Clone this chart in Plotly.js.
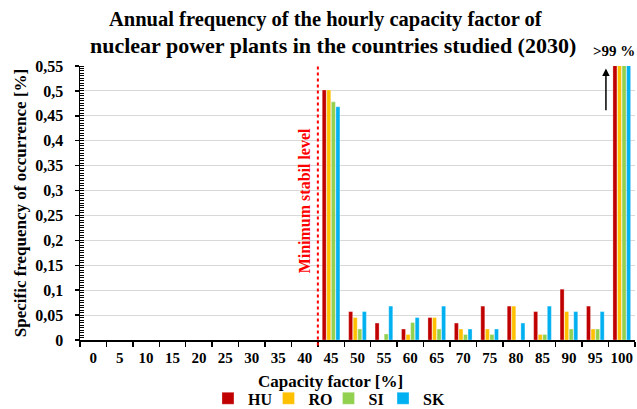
<!DOCTYPE html>
<html>
<head>
<meta charset="utf-8">
<script src="https://cdn.plot.ly/plotly-3.0.1.min.js"></script>
<style>
  html, body { margin: 0; padding: 0; background: #fff; }
  #chart { width: 637px; height: 409px; }
</style>
</head>
<body>
<div id="chart"></div>
<script>
// Capacity factor bins [%]
const capacityBins = ['0','5','10','15','20','25','30','35','40','45','50','55','60','65','70','75','80','85','90','95','100'];

// Specific frequency of occurrence [%] per country
const huValues = [0,0,0,0,0,0,0,0,0,0.502,0.057,0.034,0.022,0.045,0.034,0.068,0.068,0.057,0.102,0.068,99.05];
const roValues = [0,0,0,0,0,0,0,0,0,0.502,0.045,0,0.011,0.045,0.022,0.022,0.068,0.011,0.057,0.022,99.2];
const siValues = [0,0,0,0,0,0,0,0,0,0.478,0.022,0.012,0.035,0.022,0.011,0.011,0,0.011,0.022,0.022,99.35];
const skValues = [0,0,0,0,0,0,0,0,0,0.468,0.057,0.068,0.045,0.068,0.022,0.022,0.034,0.068,0.057,0.057,99.05];

const countryNames = ['HU','RO','SI','SK'];
const countryColors = ['#C00000','#FFC000','#92D050','#00B0F0'];

const yTickValues = [0,0.05,0.1,0.15,0.2,0.25,0.3,0.35,0.4,0.45,0.5,0.55];
const yTickLabels = ['0','0,05','0,1','0,15','0,2','0,25','0,3','0,35','0,4','0,45','0,5','0,55'];

const titleLines = [
  'Annual frequency of the hourly capacity factor of',
  'nuclear power plants in the countries studied (2030)'
];
const xAxisTitle = 'Capacity factor [%]';
const yAxisTitle = 'Specific frequency of occurrence [%]';

const minStableBoundary = 8.5;   // between the 40 % and 45 % bins
const fullLoadLabel = '>99 %';

const serif = 'Liberation Serif, Times New Roman, serif';

// one legend box per country so the entries sit in a compact row
const legendIds = ['legend', 'legend2', 'legend3', 'legend4'];
const legendX = [0.3265, 0.4215, 0.5157, 0.6013];

const series = [huValues, roValues, siValues, skValues];
const traces = series.map((vals, i) => ({
  type: 'bar',
  name: countryNames[i],
  legend: legendIds[i],
  showlegend: true,
  x: capacityBins,
  y: vals,
  marker: { color: countryColors[i], line: { color: 'rgba(255,255,255,0.6)', width: 0.5 } },
  hoverinfo: 'x+y+name'
}));

const layout = {
  width: 637,
  height: 409,
  margin: { l: 80, r: 2, t: 66, b: 69 },
  paper_bgcolor: '#ffffff',
  plot_bgcolor: '#ffffff',
  font: { family: serif, size: 15, color: '#000' },
  showlegend: true,
  barmode: 'group',
  bargap: 0.31,
  bargroupgap: 0.12,
  xaxis: {
    type: 'category',
    automargin: false,
    tickson: 'boundaries',
    tickangle: 0,
    ticks: 'outside', ticklen: 5, tickcolor: '#000', tickwidth: 1.5,
    ticklabelstandoff: 3,
    showline: true, linecolor: '#000', linewidth: 1.5,
    showgrid: false,
    tickfont: { family: serif, size: 15, color: '#000', weight: 'bold' }
  },
  yaxis: {
    automargin: false,
    range: [0, 0.55],
    tickvals: yTickValues,
    ticktext: yTickLabels,
    ticks: 'outside', ticklen: 4, tickcolor: '#000', tickwidth: 1.5,
    ticklabelstandoff: 8,
    minor: { dtick: 0.005, ticks: 'inside', ticklen: 4, tickcolor: '#000', tickwidth: 1, showgrid: false },
    showline: true, linecolor: '#000', linewidth: 1.5,
    showgrid: true, gridcolor: '#D9D9D9', gridwidth: 1,
    zeroline: false,
    tickfont: { family: serif, size: 16, color: '#000', weight: 'bold' },
    title: { text: '<b>' + yAxisTitle + '</b>', font: { family: serif, size: 17, color: '#000' }, standoff: 4 }
  },
  shapes: [{
    type: 'line', xref: 'x', yref: 'paper',
    x0: minStableBoundary, x1: minStableBoundary, y0: -0.02, y1: 1,
    line: { color: '#FF0000', width: 2, dash: 'dot' }
  }],
  annotations: [
    {
      text: '<b>' + titleLines[0] + '</b>',
      xref: 'paper', yref: 'paper', x: 0.443, y: 1.168,
      xanchor: 'center', yanchor: 'middle', showarrow: false,
      font: { family: serif, size: 20.5, color: '#000' }
    },
    {
      text: '<b>' + titleLines[1] + '</b>',
      xref: 'paper', yref: 'paper', x: 0.455, y: 1.073,
      xanchor: 'center', yanchor: 'middle', showarrow: false,
      font: { family: serif, size: 22, color: '#000' }
    },
    {
      text: '<b>' + xAxisTitle + '</b>',
      xref: 'paper', yref: 'paper', x: 0.452, y: -0.152,
      xanchor: 'center', yanchor: 'middle', showarrow: false,
      font: { family: serif, size: 17, color: '#000' }
    },
    {
      text: '<b>Minimum stabil level</b>',
      xref: 'x', yref: 'y', x: minStableBoundary, y: 0.28,
      xshift: -13, textangle: -90, showarrow: false,
      font: { family: serif, size: 16, color: '#FF0000' }
    },
    {
      text: '<b>' + fullLoadLabel + '</b>',
      xref: 'paper', yref: 'paper', x: 0.963, y: 1.055,
      xanchor: 'center', yanchor: 'middle', showarrow: false,
      font: { family: serif, size: 15, color: '#000' }
    },
    {
      text: '', xref: 'x', yref: 'y', x: 19.4, y: 0.545,
      ax: 19.4, ay: 0.458, axref: 'x', ayref: 'y',
      showarrow: true, arrowhead: 2, arrowsize: 1, arrowwidth: 1.5, arrowcolor: '#000'
    }
  ]
};

legendIds.forEach((id, i) => {
  layout[id] = {
    orientation: 'h',
    xref: 'container', yref: 'container',
    x: legendX[i], xanchor: 'left',
    y: 0.026, yanchor: 'middle',
    borderwidth: 0,
    bgcolor: 'rgba(0,0,0,0)',
    font: { family: serif, size: 16, color: '#000', weight: 'bold' }
  };
});

Plotly.newPlot('chart', traces, layout, { displayModeBar: false, staticPlot: true });
</script>
</body>
</html>
